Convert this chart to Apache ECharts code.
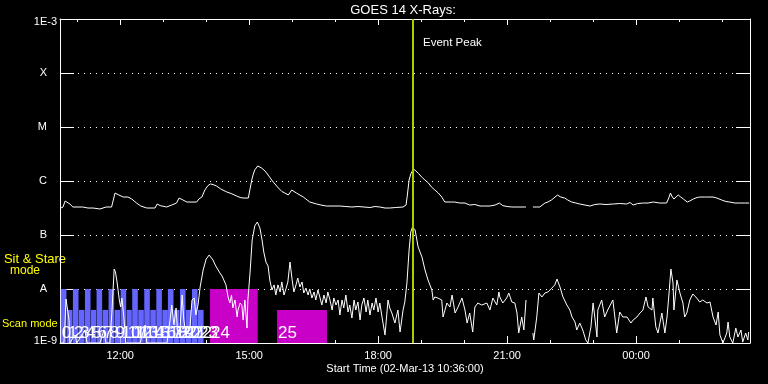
<!DOCTYPE html>
<html><head><meta charset="utf-8">
<script src="https://cdn.jsdelivr.net/npm/echarts@6/dist/echarts.min.js"></script>
<style>html,body{margin:0;padding:0;background:#000;}#c{width:768px;height:384px;}</style>
</head><body><div id="c"></div>
<script>
// ---------- data ----------
const chartTitle = 'GOES 14 X-Rays:';
const xAxisTitle = 'Start Time (02-Mar-13 10:36:00)';
const timeRange = [10.6, 26.65];               // hours since 02-Mar 00:00
const xTickHours = [11,12,13,14,15,16,17,18,19,20,21,22,23,24,25,26];
const xLabelHours = [12,15,18,21,24];
const xLabelTexts = ['12:00','15:00','18:00','21:00','00:00'];
const fluxRange = [1e-9, 1e-3];
const yTickExps = [-9,-8,-7,-6,-5,-4,-3];
const yTickLabels = ['1E-9','A','B','C','M','X','1E-3'];
const eventPeakHour = [18.80];
const eventLabel = 'Event Peak';
const modeLabels = ['Sit & Stare', 'mode', 'Scan mode'];

// GOES long channel (1-8 A), [hour, W/m^2]
const longCurve = [
[10.62,3.16e-7],[10.67,3.30e-7],[10.72,4.26e-7],[10.76,4.45e-7],[10.83,3.75e-7],[10.90,3.30e-7],[11.02,3.30e-7],[11.13,3.30e-7],[11.25,3.16e-7],[11.37,3.16e-7],
[11.53,3.03e-7],[11.67,3.30e-7],[11.80,3.30e-7],[11.83,3.44e-7],[11.88,5.99e-7],[11.95,5.6e-7],[12.07,5.05e-7],[12.18,5.05e-7],[12.27,4.64e-7],[12.38,3.91e-7],
[12.48,3.44e-7],[12.62,3.16e-7],[12.74,3.16e-7],[12.81,3.16e-7],[12.86,3.75e-7],[12.93,3.5e-7],[13.08,3.30e-7],[13.20,3.59e-7],[13.31,3.91e-7],[13.37,4.84e-7],
[13.46,4.45e-7],[13.55,4.08e-7],[13.67,4.08e-7],[13.78,4.08e-7],[13.83,4.64e-7],[13.90,5.05e-7],[13.97,6.81e-7],[14.04,8.2e-7],[14.10,8.80e-7],[14.16,8.6e-7],
[14.24,8.08e-7],[14.34,7.11e-7],[14.48,6.26e-7],[14.58,5.87e-7],[14.71,5.27e-7],[14.79,4.95e-7],[14.86,4.84e-7],[14.98,4.84e-7],[15.02,5.27e-7],[15.06,1.04e-6],
[15.09,1.29e-6],[15.13,1.60e-6],[15.20,1.90e-6],[15.29,1.74e-6],[15.37,1.53e-6],[15.44,1.29e-6],[15.56,9.58e-7],[15.68,7.42e-7],[15.76,6.4e-7],[15.83,5.99e-7],
[15.91,5.50e-7],[15.99,6.81e-7],[16.10,5.99e-7],[16.26,5.05e-7],[16.41,4.08e-7],[16.57,3.75e-7],[16.67,3.59e-7],[16.80,3.44e-7],[16.95,3.44e-7],[17.11,3.44e-7],
[17.25,3.37e-7],[17.39,3.30e-7],[17.53,3.37e-7],[17.67,3.30e-7],[17.81,3.23e-7],[17.93,3.37e-7],[18.04,3.30e-7],[18.16,3.16e-7],[18.27,3.16e-7],[18.41,3.23e-7],
[18.58,3.30e-7],[18.65,3.59e-7],[18.68,5.50e-7],[18.72,1.04e-6],[18.76,1.35e-6],[18.82,1.67e-6],[18.88,1.53e-6],[18.94,1.38e-6],[19.01,1.19e-6],[19.09,1.04e-6],
[19.17,9.18e-7],[19.24,7.74e-7],[19.32,6.81e-7],[19.40,5.99e-7],[19.48,5.05e-7],[19.55,4.08e-7],[19.71,4.08e-7],[19.78,4.08e-7],[19.90,3.91e-7],[20.02,3.91e-7],
[20.13,3.59e-7],[20.25,3.67e-7],[20.37,3.44e-7],[20.48,3.44e-7],[20.60,3.44e-7],[20.72,3.59e-7],[20.82,3.91e-7],[20.90,3.5e-7],[21.00,3.37e-7],[21.11,3.30e-7],
[21.25,3.30e-7],[21.41,3.30e-7],[21.44,3.30e-7],[21.50,null],[21.60,3.30e-7],[21.69,3.30e-7],[21.76,3.30e-7],[21.88,3.91e-7],[21.95,4.08e-7],[22.03,4.45e-7],
[22.09,4.84e-7],[22.17,5.50e-7],[22.25,5.05e-7],[22.34,4.84e-7],[22.41,4.45e-7],[22.50,4.08e-7],[22.60,3.91e-7],[22.69,3.75e-7],[22.81,3.59e-7],[22.93,3.44e-7],
[23.04,3.67e-7],[23.16,3.75e-7],[23.30,3.67e-7],[23.47,3.75e-7],[23.62,3.83e-7],[23.78,3.75e-7],[23.86,4.0e-7],[23.93,3.59e-7],[24.04,3.83e-7],[24.17,3.91e-7],
[24.28,3.91e-7],[24.40,4.08e-7],[24.55,3.91e-7],[24.71,3.91e-7],[24.76,4.84e-7],[24.80,5.99e-7],[24.83,5.27e-7],[24.88,4.64e-7],[24.93,5.05e-7],[24.98,5.50e-7],
[25.04,5.05e-7],[25.10,4.64e-7],[25.19,4.08e-7],[25.25,4.26e-7],[25.33,4.64e-7],[25.42,4.95e-7],[25.48,5.05e-7],[25.62,5.05e-7],[25.79,5.05e-7],[25.88,4.84e-7],
[25.99,4.45e-7],[26.09,4.17e-7],[26.18,4.08e-7],[26.30,3.91e-7],[26.41,3.91e-7],[26.53,3.91e-7],[26.63,3.91e-7]
];

// GOES short channel (0.5-4 A), [hour, W/m^2]
const shortCurve = [
[10.60,1.0e-9],[10.69,1.0e-9],[10.72,2.66e-9],[10.74,6.53e-9],[10.77,6.26e-9],[10.81,2.66e-9],[10.83,1.0e-9],[10.95,1.41e-9],[10.99,1.0e-9],[11.18,1.74e-9],
[11.23,1.0e-9],[11.53,1.0e-9],[11.62,1.74e-9],[11.67,1.0e-9],[11.76,1.0e-9],[11.81,4.08e-9],[11.86,2.34e-8],[11.89,2.07e-8],[11.93,1.29e-8],[11.98,6.26e-9],
[12.01,4.64e-9],[12.04,6.81e-9],[12.08,3.30e-9],[12.11,1.74e-9],[12.13,1.0e-9],[12.46,1.0e-9],[12.58,2.15e-9],[12.62,1.0e-9],[13.09,1.0e-9],[13.16,2.66e-9],
[13.20,5.05e-9],[13.25,2.15e-9],[13.30,4.45e-9],[13.34,1.41e-9],[13.39,1.74e-9],[13.44,7.74e-9],[13.48,2.66e-9],[13.53,1.41e-9],[13.62,1.74e-9],[13.67,6.26e-9],
[13.72,6.81e-9],[13.76,3.30e-9],[13.81,5.05e-9],[13.86,1.09e-8],[13.93,2.25e-8],[14.00,3.59e-8],[14.07,4.26e-8],[14.11,4.1e-8],[14.16,3.44e-8],[14.20,2.90e-8],
[14.25,2.45e-8],[14.32,1.98e-8],[14.37,1.74e-8],[14.41,1.47e-8],[14.46,1.19e-8],[14.51,7.11e-9],[14.55,5.50e-9],[14.59,7.74e-9],[14.62,4.45e-9],[14.67,6.26e-9],
[14.72,3.03e-9],[14.74,4.08e-9],[14.79,5.50e-9],[14.83,5.05e-9],[14.86,2.66e-9],[14.90,6.26e-9],[14.95,1.89e-9],[14.97,6.26e-9],[15.02,1.98e-8],[15.07,8.08e-8],
[15.13,1.47e-7],[15.19,1.74e-7],[15.25,1.35e-7],[15.30,8.08e-8],[15.34,4.84e-8],[15.39,3.16e-8],[15.44,2.67e-8],[15.48,1.47e-8],[15.53,9.58e-9],[15.58,1.19e-8],
[15.62,7.74e-9],[15.67,1.19e-8],[15.72,8.80e-9],[15.76,1.35e-8],[15.81,7.74e-9],[15.86,1.04e-8],[15.90,1.35e-8],[15.95,3.16e-8],[16.00,1.47e-8],[16.04,8.80e-9],
[16.09,1.19e-8],[16.13,1.60e-8],[16.18,1.09e-8],[16.23,1.35e-8],[16.27,8.43e-9],[16.32,1.04e-8],[16.37,7.74e-9],[16.41,1.0e-8],[16.46,6.81e-9],[16.51,8.80e-9],
[16.55,6.26e-9],[16.60,9.58e-9],[16.65,6.81e-9],[16.69,5.05e-9],[16.74,7.74e-9],[16.79,5.50e-9],[16.83,8.80e-9],[16.88,6.26e-9],[16.93,4.08e-9],[16.97,6.81e-9],
[17.02,5.05e-9],[17.07,6.26e-9],[17.11,3.30e-9],[17.16,6.26e-9],[17.20,4.45e-9],[17.25,7.74e-9],[17.30,3.75e-9],[17.34,5.05e-9],[17.39,2.90e-9],[17.44,6.26e-9],
[17.48,4.08e-9],[17.53,5.74e-9],[17.58,2.66e-9],[17.62,5.05e-9],[17.67,6.81e-9],[17.72,3.75e-9],[17.76,6.26e-9],[17.81,3.30e-9],[17.86,5.50e-9],[17.90,4.08e-9],
[17.95,6.81e-9],[18.00,3.75e-9],[18.04,5.50e-9],[18.09,3.03e-9],[18.16,1.41e-9],[18.23,6.26e-9],[18.27,4.45e-9],[18.32,3.59e-9],[18.39,2.34e-9],[18.46,4.08e-9],
[18.51,1.60e-9],[18.58,4.08e-9],[18.62,5.74e-9],[18.67,1.29e-8],[18.72,5.28e-8],[18.76,1.14e-7],[18.80,1.41e-7],[18.86,1.24e-7],[18.93,6.0e-8],[19.02,3.91e-8],
[19.09,2.25e-8],[19.16,1.47e-8],[19.25,9.58e-9],[19.28,6.26e-9],[19.32,7.11e-9],[19.39,6.81e-9],[19.48,6.26e-9],[19.51,3.03e-9],[19.60,5.50e-9],[19.67,4.64e-9],
[19.72,7.74e-9],[19.79,3.59e-9],[19.86,4.64e-9],[19.95,6.81e-9],[20.02,4.08e-9],[20.07,2.34e-9],[20.13,3.59e-9],[20.20,1.60e-9],[20.25,4.64e-9],[20.32,5.50e-9],
[20.41,5.05e-9],[20.53,5.50e-9],[20.60,4.08e-9],[20.67,6.81e-9],[20.76,5.05e-9],[20.81,8.80e-9],[20.83,7.11e-9],[20.90,5.50e-9],[20.99,6.81e-9],[21.04,8.43e-9],
[21.11,5.74e-9],[21.18,5.50e-9],[21.23,3.59e-9],[21.27,1.53e-9],[21.34,3.03e-9],[21.39,1.74e-9],[21.44,6.26e-9],[21.50,null],[21.60,1.53e-9],[21.62,1.14e-9],
[21.69,3.03e-9],[21.74,8.43e-9],[21.81,7.11e-9],[21.88,8.43e-9],[21.95,8.80e-9],[22.04,1.04e-8],[22.11,1.19e-8],[22.16,1.53e-8],[22.23,1.09e-8],[22.30,7.11e-9],
[22.39,5.05e-9],[22.46,4.08e-9],[22.51,3.03e-9],[22.58,2.45e-9],[22.62,1.74e-9],[22.69,2.34e-9],[22.76,1.74e-9],[22.83,1.14e-9],[22.88,1.0e-9],[22.95,1.98e-9],
[23.00,5.50e-9],[23.04,3.03e-9],[23.09,1.29e-9],[23.11,4.08e-9],[23.20,6.26e-9],[23.27,3.03e-9],[23.34,4.08e-9],[23.46,6.26e-9],[23.55,1.53e-9],[23.62,3.75e-9],
[23.69,3.03e-9],[23.79,3.03e-9],[23.88,2.34e-9],[23.93,2.66e-9],[24.02,3.03e-9],[24.09,3.59e-9],[24.16,4.08e-9],[24.23,7.11e-9],[24.28,4.64e-9],[24.37,4.08e-9],
[24.39,6.81e-9],[24.46,1.98e-9],[24.51,1.53e-9],[24.60,3.59e-9],[24.67,1.53e-9],[24.72,3.03e-9],[24.76,7.11e-9],[24.81,2.34e-8],[24.86,1.29e-8],[24.88,4.08e-9],
[24.95,1.47e-8],[25.02,8.43e-9],[25.09,5.50e-9],[25.13,3.03e-9],[25.18,3.59e-9],[25.25,6.26e-9],[25.32,8.08e-9],[25.41,6.81e-9],[25.48,5.74e-9],[25.55,6.26e-9],
[25.65,5.50e-9],[25.72,5.74e-9],[25.79,3.03e-9],[25.86,2.15e-9],[25.91,3.75e-9],[25.95,1.41e-9],[26.02,1.0e-9],[26.11,1.53e-9],[26.14,2.45e-9],[26.18,1.29e-9],
[26.25,1.0e-9],[26.32,1.89e-9],[26.37,1.29e-9],[26.44,1.74e-9],[26.48,1.04e-9],[26.55,1.53e-9],[26.60,1.14e-9],[26.62,1.60e-9]
];

// observation blocks: start hour, end hour, top level, group (0 = blue, 1 = magenta), label
const obsStart = [10.62,10.76,10.90,11.04,11.18,11.32,11.45,11.59,11.73,11.87,12.01,12.15,12.28,12.42,12.56,12.70,12.84,12.98,13.11,13.25,13.39,13.53,13.67,13.81,14.09,15.65];
const obsEnd   = [10.75,10.89,11.03,11.17,11.31,11.44,11.58,11.72,11.86,12.00,12.14,12.27,12.41,12.55,12.69,12.83,12.97,13.11,13.24,13.38,13.52,13.66,13.80,13.94,15.20,16.81];
const obsTop   = [1e-8,4.1e-9,1e-8,4.1e-9,1e-8,4.1e-9,1e-8,4.1e-9,1e-8,4.1e-9,1e-8,4.1e-9,1e-8,4.1e-9,1e-8,4.1e-9,1e-8,4.1e-9,1e-8,4.1e-9,1e-8,4.1e-9,1e-8,4.1e-9,1e-8,4.1e-9];
const obsGroup = [0,0,0,0,0,0,0,0,0,0,0,0,0,0,0,0,0,0,0,0,0,0,0,0,1,1];
const obsLabel = ['0','1','2','3','4','5','6','7','8','9','10','11','12','13','14','15','16','17','18','19','20','21','22','23','24','25'];

// ---------- chart ----------
const FONT = 'Liberation Sans';
const groupColors = ['#6464ff', '#c800c8'];
const chart = echarts.init(document.getElementById('c'), null, {renderer: 'canvas'});
const obsData = obsStart.map((s, i) => [s, obsEnd[i], obsTop[i], obsGroup[i]]);
const toSeries = arr => arr.map(p => [p[0], p[1] === null ? '-' : p[1]]);

function xAxisBase(pos, ticks, len, showLine) {
  return {
    type: 'value', position: pos, min: timeRange[0], max: timeRange[1],
    axisLine: {show: showLine, onZero: false, lineStyle: {color: '#fff', width: 1}},
    axisTick: {show: true, inside: true, length: len, customValues: ticks, lineStyle: {color: '#fff', width: 1}},
    axisLabel: {show: false},
    splitLine: {show: false}
  };
}
const xMain = xAxisBase('bottom', xTickHours, 3, true);
xMain.axisLabel = {
  show: true, customValues: xLabelHours, color: '#fff', fontFamily: FONT, fontSize: 11, margin: 7,
  formatter: v => xLabelTexts[xLabelHours.indexOf(Math.round(v))] || ''
};

const option = {
  backgroundColor: '#000',
  animation: false,
  grid: {left: 60, right: 18, top: 19, bottom: 41, containLabel: false},
  xAxis: [
    xMain,
    xAxisBase('bottom', xLabelHours, 7, false),
    xAxisBase('top', xTickHours, 3, true),
    xAxisBase('top', xLabelHours, 6, false)
  ],
  yAxis: [{
    type: 'log', logBase: 10, min: fluxRange[0], max: fluxRange[1], splitNumber: 6,
    axisLine: {show: true, lineStyle: {color: '#fff', width: 1}},
    axisTick: {show: true, inside: true, length: 14, lineStyle: {color: '#fff', width: 1}},
    minorTick: {show: false},
    axisLabel: {
      color: '#fff', fontFamily: FONT, fontSize: 11, margin: 3,
      formatter: v => {
        const e = Math.round(Math.log10(v));
        const s = yTickLabels[yTickExps.indexOf(e)] || '';
        if (s.length === 1) return '{l|' + s + '}';
        return e === yTickExps[yTickExps.length - 1] ? '{t|' + s + '}' : '{b|' + s + '}';
      },
      rich: {
        l: {padding: [0, 10, 0, 0], color: '#fff', fontFamily: FONT, fontSize: 11},
        t: {padding: [6, 0, 0, 0], color: '#fff', fontFamily: FONT, fontSize: 11},
        b: {padding: [0, 0, 4, 0], color: '#fff', fontFamily: FONT, fontSize: 11}
      }
    },
    splitLine: {show: true, lineStyle: {color: '#fff', width: 1, type: [1, 5]}}
  }, {
    type: 'log', logBase: 10, min: fluxRange[0], max: fluxRange[1], splitNumber: 6, position: 'right',
    axisLine: {show: true, lineStyle: {color: '#fff', width: 1}},
    axisTick: {show: true, inside: true, length: 14, lineStyle: {color: '#fff', width: 1}},
    axisLabel: {show: false}, splitLine: {show: false}
  }],
  series: [
    {
      type: 'custom', name: 'obs', z: 1, silent: true, clip: true,
      data: obsData,
      renderItem: (params, api) => {
        const p0 = api.coord([api.value(0), api.value(2)]);
        const p1 = api.coord([api.value(1), fluxRange[0]]);
        return {type: 'rect', shape: {x: p0[0], y: p0[1], width: p1[0] - p0[0], height: p1[1] - p0[1]},
                style: {fill: groupColors[api.value(3)]}};
      }
    },
    {
      type: 'custom', name: 'obsLabels', z: 4, silent: true,
      data: obsData,
      renderItem: (params, api) => {
        const p = api.coord([api.value(0), fluxRange[0]]);
        return {type: 'text', x: p[0] + 1, y: p[1] - 10,
                style: {text: obsLabel[params.dataIndex], fill: '#fff', fontFamily: FONT, fontSize: 17,
                        align: 'left', verticalAlign: 'middle'}};
      }
    },
    {
      type: 'line', name: 'long', z: 3, data: toSeries(longCurve), showSymbol: false, symbol: 'none',
      connectNulls: false, clip: true, lineStyle: {color: '#fff', width: 1}
    },
    {
      type: 'line', name: 'short', z: 3, data: toSeries(shortCurve), showSymbol: false, symbol: 'none',
      connectNulls: false, clip: true, lineStyle: {color: '#fff', width: 1}
    },
    {
      type: 'line', name: 'event', z: 6, data: [],
      markLine: {
        silent: true, symbol: 'none', animation: false,
        label: {show: false},
        lineStyle: {color: '#a8d000', width: 2, type: 'solid'},
        data: eventPeakHour.map(h => ({xAxis: h}))
      }
    }
  ],
  graphic: [
    {type: 'text', x: 403, y: 10, style: {text: chartTitle, fill: '#fff', fontFamily: FONT, fontSize: 13, align: 'center', verticalAlign: 'middle'}},
    {type: 'text', x: 405, y: 369, style: {text: xAxisTitle, fill: '#fff', fontFamily: FONT, fontSize: 11, align: 'center', verticalAlign: 'middle'}},
    {type: 'text', x: 423, y: 43, style: {text: eventLabel, fill: '#fff', fontFamily: FONT, fontSize: 11.5, align: 'left', verticalAlign: 'middle'}},
    {type: 'text', x: 35, y: 259, style: {text: modeLabels[0], fill: '#ffff00', fontFamily: FONT, fontSize: 13, align: 'center', verticalAlign: 'middle'}},
    {type: 'text', x: 25, y: 271, style: {text: modeLabels[1], fill: '#ffff00', fontFamily: FONT, fontSize: 12, align: 'center', verticalAlign: 'middle'}},
    {type: 'text', x: 2, y: 324, style: {text: modeLabels[2], fill: '#ffff00', fontFamily: FONT, fontSize: 11, align: 'left', verticalAlign: 'middle'}}
  ]
};
chart.setOption(option);
</script>
</body></html>
